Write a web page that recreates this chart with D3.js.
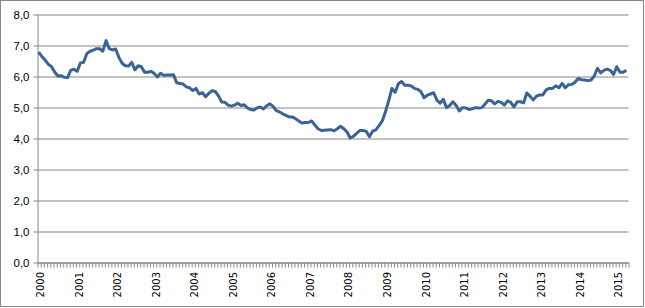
<!DOCTYPE html>
<html>
<head>
<meta charset="utf-8">
<script src="https://cdn.jsdelivr.net/npm/d3@7"></script>
<style>
  body { margin: 0; background: #fff; }
  svg { display: block; font-family: "DejaVu Sans", Verdana, sans-serif; }
  .domain { stroke: #868686; }
  .tick line { stroke: #868686; }
</style>
</head>
<body>
<svg id="chart" width="645" height="308"></svg>
<script>
// monthly values, Jan 2000 .. Apr 2015
const years = ["2000", "2001", "2002", "2003", "2004", "2005", "2006", "2007",
               "2008", "2009", "2010", "2011", "2012", "2013", "2014", "2015"];
const v2000 = [6.77, 6.63, 6.52, 6.38, 6.31, 6.13, 6.00, 6.01, 5.96, 5.95, 6.18, 6.22];
const v2001 = [6.15, 6.42, 6.44, 6.72, 6.80, 6.83, 6.88, 6.88, 6.80, 7.14, 6.88, 6.84];
const v2002 = [6.87, 6.60, 6.41, 6.33, 6.32, 6.44, 6.20, 6.33, 6.30, 6.12, 6.12, 6.15];
const v2003 = [6.08, 5.97, 6.09, 6.02, 6.03, 6.03, 6.04, 5.78, 5.76, 5.74, 5.65, 5.62];
const v2004 = [5.53, 5.60, 5.42, 5.46, 5.33, 5.44, 5.53, 5.50, 5.36, 5.16, 5.15, 5.06];
const v2005 = [5.03, 5.06, 5.12, 5.05, 5.07, 4.97, 4.92, 4.90, 4.97, 5.00, 4.94, 5.04];
const v2006 = [5.10, 5.02, 4.88, 4.84, 4.78, 4.73, 4.68, 4.68, 4.62, 4.55, 4.48, 4.50];
const v2007 = [4.50, 4.55, 4.42, 4.30, 4.24, 4.25, 4.26, 4.27, 4.23, 4.30, 4.38, 4.30];
const v2008 = [4.20, 4.00, 4.05, 4.15, 4.24, 4.24, 4.22, 4.04, 4.22, 4.26, 4.40, 4.55];
const v2009 = [4.85, 5.20, 5.60, 5.47, 5.75, 5.82, 5.70, 5.70, 5.68, 5.60, 5.57, 5.50];
const v2010 = [5.30, 5.38, 5.42, 5.46, 5.22, 5.12, 5.25, 4.98, 5.05, 5.17, 5.05, 4.87];
const v2011 = [4.98, 4.97, 4.92, 4.94, 4.98, 4.97, 4.98, 5.10, 5.22, 5.20, 5.10, 5.18];
const v2012 = [5.15, 5.06, 5.20, 5.15, 5.00, 5.17, 5.17, 5.13, 5.45, 5.35, 5.23, 5.35];
const v2013 = [5.39, 5.39, 5.55, 5.60, 5.60, 5.68, 5.62, 5.76, 5.62, 5.72, 5.73, 5.80];
const v2014 = [5.92, 5.88, 5.87, 5.85, 5.87, 6.00, 6.25, 6.10, 6.18, 6.22, 6.18, 6.05];
const v2015 = [6.30, 6.12, 6.12, 6.18];
const yTicks = [0, 1, 2, 3, 4, 5, 6, 7, 8];

const values = [].concat(v2000, v2001, v2002, v2003, v2004, v2005, v2006, v2007,
                         v2008, v2009, v2010, v2011, v2012, v2013, v2014, v2015);
const n = values.length;

let svg = d3.select("#chart");

// outer chart border
svg.append("rect")
    .attr("x", 0.5).attr("y", 0.5)
    .attr("width", 643).attr("height", 306)
    .attr("fill", "none").attr("stroke", "#868686");

let plotL = 37, plotR = 628, plotT = 14, plotB = 262;

let x = d3.scaleLinear().domain([0, n]).range([plotL, plotR]);
let y = d3.scaleLinear().domain([0, 8]).range([plotB, plotT]);

// y axis + gridlines
let gy = svg.append("g")
    .attr("transform", `translate(${plotL + 0.5},0.5)`)
    .call(d3.axisLeft(y)
        .tickValues(yTicks)
        .tickSizeInner(-(plotR - plotL))
        .tickSizeOuter(0)
        .tickPadding(8)
        .tickFormat(d => d3.format(".1f")(d).replace(".", ",")));
gy.selectAll(".tick line").attr("x1", -4);
gy.selectAll(".tick text")
    .attr("font-size", "11.5px")
    .attr("fill", "#000");

// x axis with month ticks
let gx = svg.append("g")
    .attr("transform", `translate(0.5,${plotB + 0.5})`)
    .call(d3.axisBottom(x)
        .tickValues(d3.range(0, n + 1))
        .tickSizeInner(5)
        .tickSizeOuter(0)
        .tickFormat(""));

// year labels, rotated
let gl = svg.append("g").attr("transform", `translate(0,${plotB})`);
gl.selectAll("text")
    .data(years)
    .enter().append("text")
    .attr("transform", (d, i) => `translate(${x(i * 12 + 0.5) + 2},10) rotate(-90)`)
    .attr("text-anchor", "end")
    .attr("dy", "0.35em")
    .attr("font-size", "10px")
    .attr("fill", "#000")
    .text(d => d);

// the series line
let line = d3.line()
    .x((d, i) => x(i + 0.5))
    .y(d => y(d));

svg.append("path")
    .datum(values)
    .attr("fill", "none")
    .attr("stroke", "#3a6396")
    .attr("stroke-width", 3)
    .attr("stroke-linejoin", "round")
    .attr("d", line);
</script>
</body>
</html>
